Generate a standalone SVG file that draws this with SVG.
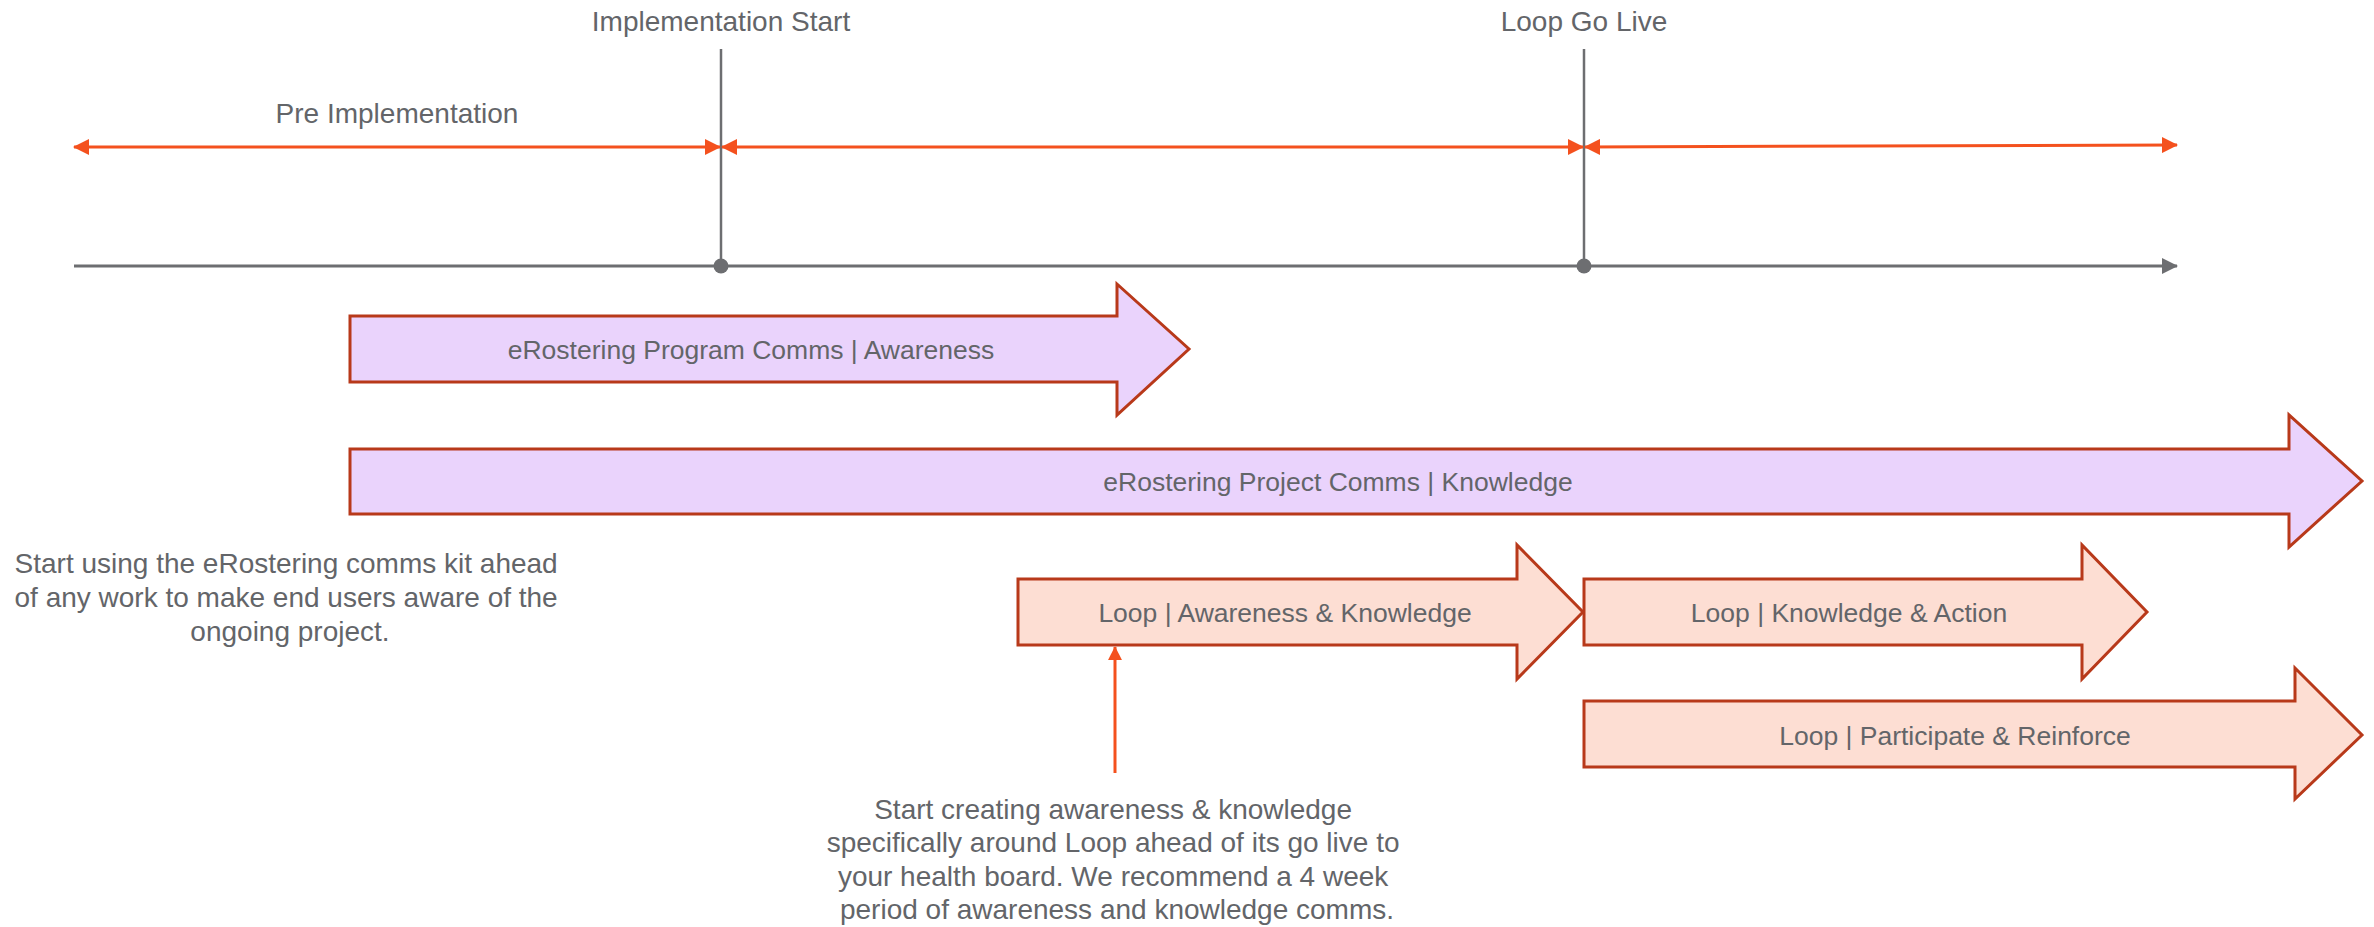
<svg xmlns="http://www.w3.org/2000/svg" width="2374" height="927" viewBox="0 0 2374 927">
<style>
text{font-family:"Liberation Sans",Arial,sans-serif;fill:#636569}
.lbl{font-size:28px}
.at{font-size:26.5px}
.purple{fill:#EAD3FC;stroke:#B8391A;stroke-width:3;stroke-linejoin:miter}
.peach{fill:#FDDED3;stroke:#B8391A;stroke-width:3;stroke-linejoin:miter}
.oline{stroke:#F4511E;stroke-width:3;fill:none}
.gline{stroke:#6D6E71;fill:none}
</style>
<defs>
<marker id="oe" viewBox="0 0 16 16" refX="15" refY="8" markerWidth="16" markerHeight="16" markerUnits="userSpaceOnUse" orient="auto-start-reverse"><path d="M0,0 L16,8 L0,16 Z" fill="#F4511E"/></marker>
<marker id="ge" viewBox="0 0 16 16" refX="15" refY="8" markerWidth="16" markerHeight="16" markerUnits="userSpaceOnUse" orient="auto"><path d="M0,0 L16,8 L0,16 Z" fill="#6D6E71"/></marker>
<marker id="ue" viewBox="0 0 16 16" refX="15" refY="8" markerWidth="14" markerHeight="14" markerUnits="userSpaceOnUse" orient="auto"><path d="M0,0 L16,8 L0,16 Z" fill="#F4511E"/></marker>
</defs>

<g id="connectors">
<line class="gline" x1="74" y1="266" x2="2177" y2="266" stroke-width="3" marker-end="url(#ge)"/>
<line class="gline" x1="721" y1="49" x2="721" y2="266" stroke-width="2.5"/>
<line class="gline" x1="1584" y1="49" x2="1584" y2="266" stroke-width="2.5"/>
<circle cx="721" cy="266" r="7.5" fill="#6D6E71"/>
<circle cx="1584" cy="266" r="7.5" fill="#6D6E71"/>
<line class="oline" x1="74" y1="147" x2="720" y2="147" marker-start="url(#oe)" marker-end="url(#oe)"/>
<line class="oline" x1="722" y1="147" x2="1583" y2="147" marker-start="url(#oe)" marker-end="url(#oe)"/>
<line class="oline" x1="1585" y1="147" x2="2177" y2="145" marker-start="url(#oe)" marker-end="url(#oe)"/>
<line class="oline" x1="1115" y1="773" x2="1115" y2="647" stroke-width="2.5" marker-end="url(#ue)"/>
</g>

<g id="label-impl-start"><text class="lbl" x="721" y="31" text-anchor="middle">Implementation Start</text></g>
<g id="label-go-live"><text class="lbl" x="1584" y="31" text-anchor="middle">Loop Go Live</text></g>
<g id="label-pre-impl"><text class="lbl" x="397" y="123" text-anchor="middle">Pre Implementation</text></g>

<g id="program-comms">
<path class="purple" d="M350,316 L1117,316 L1117,284 L1189,349 L1117,415 L1117,382 L350,382 Z"/>
<text class="at" x="751" y="359" text-anchor="middle">eRostering Program Comms | Awareness</text>
</g>

<g id="project-comms">
<path class="purple" d="M350,449 L2289,449 L2289,415 L2362,481 L2289,547 L2289,514 L350,514 Z"/>
<text class="at" x="1338" y="491" text-anchor="middle">eRostering Project Comms | Knowledge</text>
</g>

<g id="loop-awareness">
<path class="peach" d="M1018,579 L1517,579 L1517,545 L1583,612 L1517,679 L1517,645 L1018,645 Z"/>
<text class="at" x="1285" y="622" text-anchor="middle">Loop | Awareness &amp; Knowledge</text>
</g>

<g id="loop-action">
<path class="peach" d="M1584,579 L2082,579 L2082,545 L2147,612 L2082,679 L2082,645 L1584,645 Z"/>
<text class="at" x="1849" y="622" text-anchor="middle">Loop | Knowledge &amp; Action</text>
</g>

<g id="loop-reinforce">
<path class="peach" d="M1584,701 L2295,701 L2295,668 L2362,735 L2295,799 L2295,767 L1584,767 Z"/>
<text class="at" x="1955" y="745" text-anchor="middle">Loop | Participate &amp; Reinforce</text>
</g>

<g id="note-left">
<text class="lbl" text-anchor="middle">
<tspan x="290" y="573">Start using the eRostering comms kit ahead</tspan>
<tspan x="290" y="607">of any work to make end users aware of the</tspan>
<tspan x="290" y="641">ongoing project.</tspan>
</text>
</g>

<g id="note-bottom">
<text class="lbl" text-anchor="middle">
<tspan x="1117" y="819">Start creating awareness &amp; knowledge</tspan>
<tspan x="1117" y="852">specifically around Loop ahead of its go live to</tspan>
<tspan x="1117" y="886">your health board. We recommend a 4 week</tspan>
<tspan x="1117" y="919">period of awareness and knowledge comms.</tspan>
</text>
</g>
</svg>
